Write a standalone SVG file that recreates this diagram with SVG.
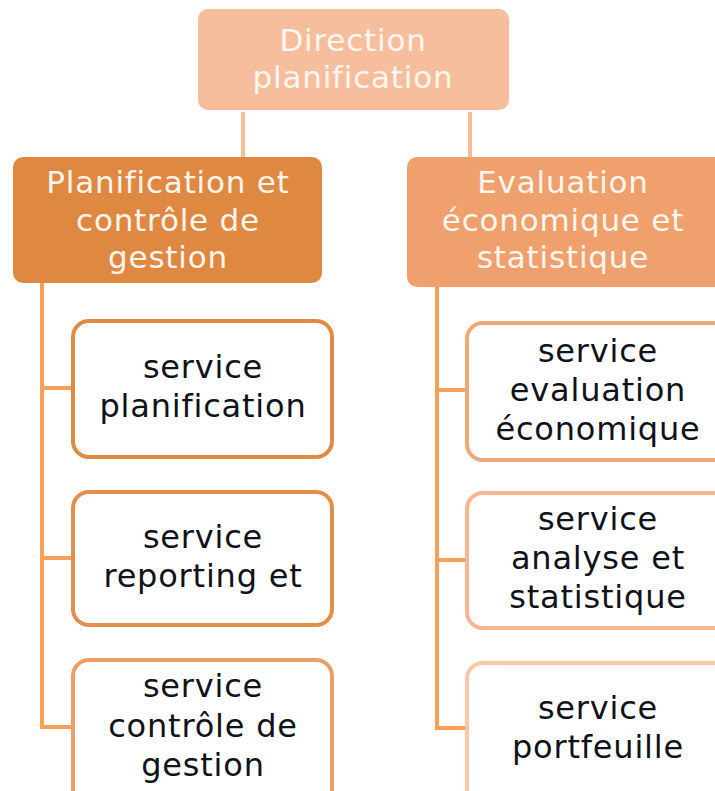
<svg xmlns="http://www.w3.org/2000/svg" width="715" height="791" viewBox="0 0 715 791">
<style>
text{font-family:"DejaVu Sans","Open Sans",sans-serif;font-size:32px;text-anchor:middle;letter-spacing:0.8px}
.h{fill:#FFF6EF;font-size:31px}
.c{fill:#0F1219}
.box{fill:#FFFFFF;stroke-width:4}
.ln{fill:none;stroke-width:4}
</style>
<rect width="715" height="791" fill="#FFFFFF"/>
<g id="connectors">
<line class="ln" x1="243" y1="112" x2="243" y2="157" stroke="#F6BE98"/>
<line class="ln" x1="470" y1="112" x2="470" y2="157" stroke="#F6BE98"/>
<polyline class="ln" points="42,283 42,727 73,727" stroke="#F7A05C"/>
<line class="ln" x1="42" y1="388" x2="73" y2="388" stroke="#F7A05C"/>
<line class="ln" x1="42" y1="558" x2="73" y2="558" stroke="#F7A05C"/>
<polyline class="ln" points="437,287 437,728 467,728" stroke="#F7A05C"/>
<line class="ln" x1="437" y1="390" x2="467" y2="390" stroke="#F7A05C"/>
<line class="ln" x1="437" y1="560" x2="467" y2="560" stroke="#F7A05C"/>
</g>
<g id="direction">
<rect x="198" y="9" width="311" height="101" rx="10" fill="#F7BE9E"/>
<text class="h" x="353" y="51">Direction</text>
<text class="h" x="353" y="88">planification</text>
</g>
<g id="planification-controle">
<rect x="13" y="157" width="309" height="126" rx="10" fill="#DF8842"/>
<text class="h" x="168" y="193">Planification et</text>
<text class="h" x="168" y="231">contrôle de</text>
<text class="h" x="168" y="268">gestion</text>
</g>
<g id="evaluation-economique">
<rect x="407" y="157" width="330" height="130" rx="10" fill="#F0A06C"/>
<text class="h" x="563" y="193">Evaluation</text>
<text class="h" x="563" y="231">économique et</text>
<text class="h" x="563" y="268">statistique</text>
</g>
<g id="service-planification">
<rect class="box" x="73" y="321" width="259" height="136" rx="16" stroke="#E08A45"/>
<text class="c" x="203" y="378">service</text>
<text class="c" x="203" y="417">planification</text>
</g>
<g id="service-reporting">
<rect class="box" x="73" y="492" width="259" height="133" rx="16" stroke="#E38F4C"/>
<text class="c" x="203" y="548">service</text>
<text class="c" x="203" y="587">reporting et</text>
</g>
<g id="service-controle">
<rect class="box" x="73" y="660" width="259" height="150" rx="16" stroke="#EB9E68"/>
<text class="c" x="203" y="697">service</text>
<text class="c" x="203" y="737">contrôle de</text>
<text class="c" x="203" y="776">gestion</text>
</g>
<g id="service-evaluation">
<rect class="box" x="467" y="323" width="270" height="137" rx="16" stroke="#F0A878"/>
<text class="c" x="598" y="362">service</text>
<text class="c" x="598" y="401">evaluation</text>
<text class="c" x="598" y="440">économique</text>
</g>
<g id="service-analyse">
<rect class="box" x="467" y="493" width="270" height="135" rx="16" stroke="#F6B690"/>
<text class="c" x="598" y="530">service</text>
<text class="c" x="598" y="569">analyse et</text>
<text class="c" x="598" y="608">statistique</text>
</g>
<g id="service-portfeuille">
<rect class="box" x="467" y="663" width="270" height="150" rx="16" stroke="#FAC8A8"/>
<text class="c" x="598" y="719">service</text>
<text class="c" x="598" y="758">portfeuille</text>
</g>
</svg>
